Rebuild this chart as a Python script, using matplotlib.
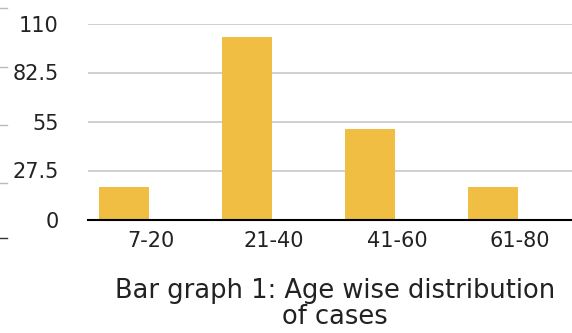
import numpy as np
import matplotlib
matplotlib.use('Agg')
import matplotlib.pyplot as plt
from matplotlib.lines import Line2D

plt.rcParams['font.family'] = ['DejaVu Sans']

# data
age_groups = ["7-20", "21-40", "41-60", "61-80"]
cases = [18, 102.5, 51, 18]
y_ticks = [0, 27.5, 55, 82.5, 110]
y_labels = ["0", "27.5", "55", "82.5", "110"]
caption_1 = "Bar graph 1: Age wise distribution"
caption_2 = "of cases"

W, H = 572, 333
fig = plt.figure(figsize=(W / 100, H / 100), dpi=100)
ax = fig.add_axes([88 / W, 1 - 219.5 / H, (W - 88) / W, (219.5 - 23.5) / H])

x = np.arange(len(age_groups))
# bars sit left of the category centre, as in a two-series group
ax.bar(x - 0.22, cases, width=0.4, color='#EFBE42', zorder=3)

ax.set_xlim(-0.512, 3.423)
ax.set_ylim(0, 110)
ax.set_yticks(y_ticks)
ax.set_yticklabels(y_labels)
ax.set_xticks(x)
ax.set_xticklabels(age_groups)
ax.tick_params(axis='y', length=0, pad=21, labelsize=15, colors='#222222')
ax.tick_params(axis='x', length=0, pad=8, labelsize=15, colors='#222222')
ax.yaxis.grid(True, color='#C8C8C8', linewidth=1.2, zorder=0)

for s in ['top', 'right', 'left']:
    ax.spines[s].set_visible(False)
ax.spines['bottom'].set_color('black')
ax.spines['bottom'].set_linewidth(1.5)
ax.spines['bottom'].set_zorder(4)

# small leftover marks on the far left edge
for yy, c in [(8, '#BBBBBB'), (67, '#BBBBBB'), (125, '#BBBBBB'), (183, '#BBBBBB'), (238, '#333333')]:
    fig.add_artist(Line2D([0, 7 / W], [1 - yy / H] * 2, color=c, linewidth=1, transform=fig.transFigure))

fig.text(335 / W, 1 - 298 / H, caption_1, ha='center', va='baseline',
         fontsize=18.5, color='#222222')
fig.text(335 / W, 1 - 324 / H, caption_2, ha='center', va='baseline',
         fontsize=18.5, color='#222222')

fig.savefig('out.png', dpi=100)
